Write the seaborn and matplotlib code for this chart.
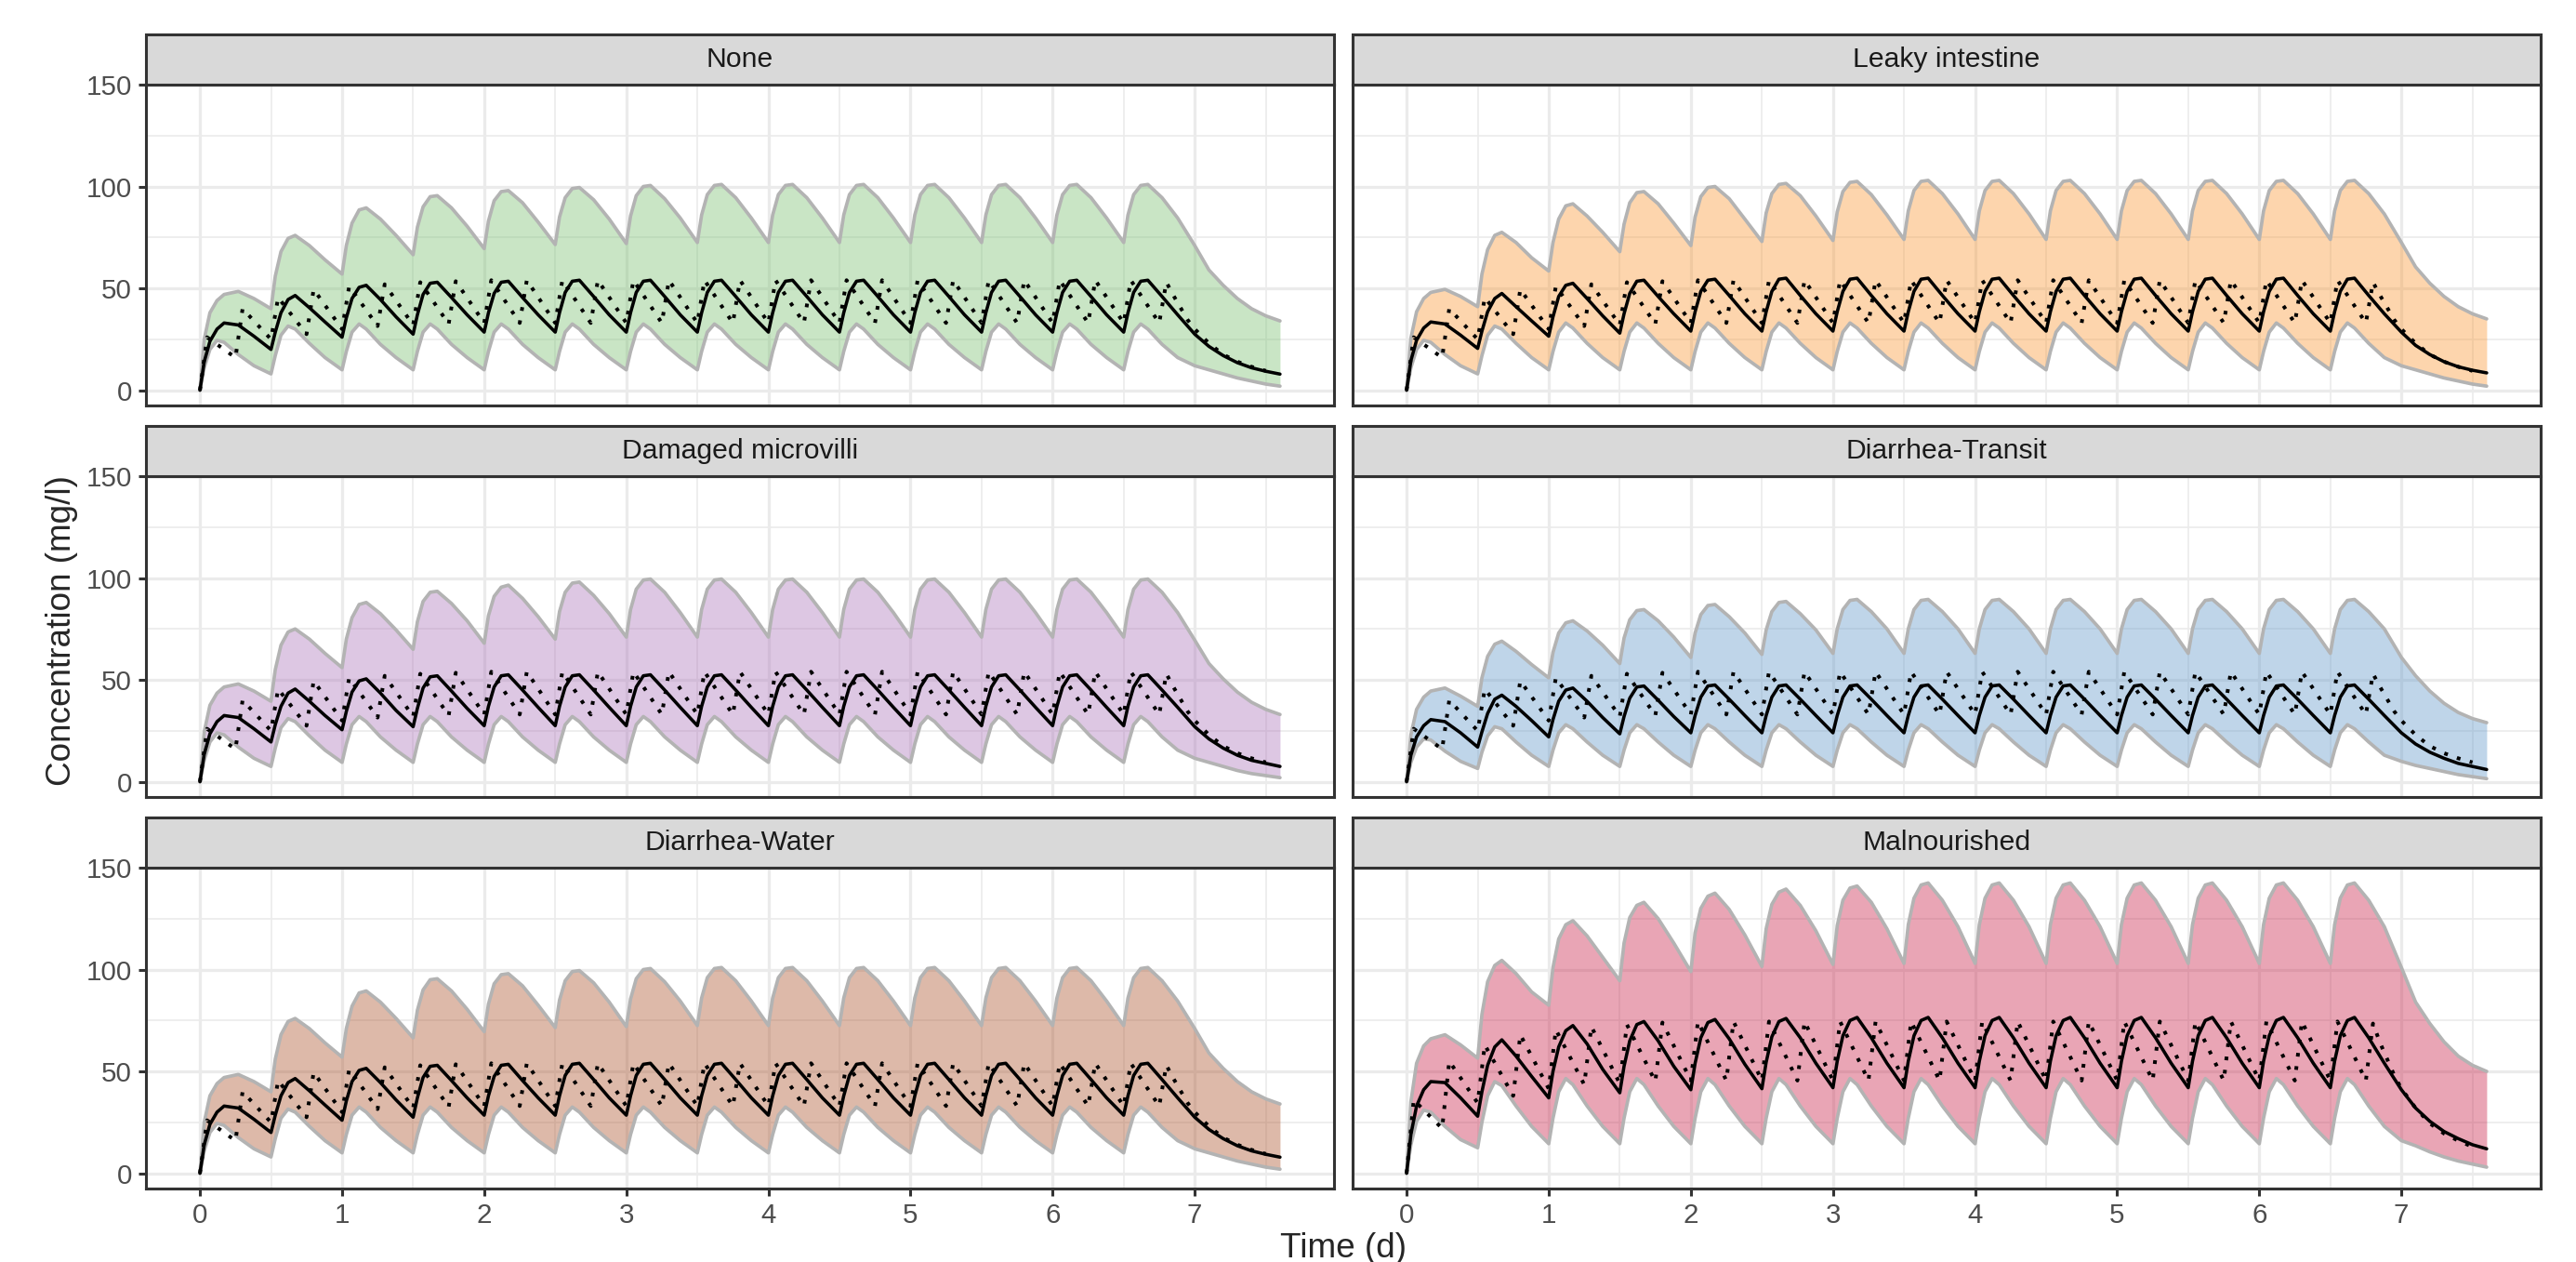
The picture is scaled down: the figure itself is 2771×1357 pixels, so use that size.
import matplotlib
matplotlib.use("Agg")
import matplotlib.pyplot as plt
from matplotlib.patches import Rectangle
from matplotlib.ticker import MultipleLocator
import pandas as pd
import seaborn as sns

# ---- data ---------------------------------------------------------------
scenarios = ["None", "Leaky intestine", "Damaged microvilli",
             "Diarrhea-Transit", "Diarrhea-Water", "Malnourished"]
fill_colors = ["#78C070", "#FA9834", "#AC73B9", "#6198CA", "#AC522A", "#C82048"]

# simulated profiles: one row per dosing interval (sampled at the offsets), last row = washout
dose_times = [0.0, 0.5, 1.0, 1.5, 2.0, 2.5, 3.0, 3.5, 4.0, 4.5, 5.0, 5.5, 6.0, 6.5]
sample_offsets = [0.0, 0.03, 0.07, 0.12, 0.17, 0.27, 0.38]
tail_times = [7.0, 7.1, 7.2, 7.3, 7.4, 7.5, 7.6]

none_median = [
    [0, 14, 24, 30, 33, 32, 26.5],
    [20, 28.5, 38, 44.5, 46.5, 40.5, 33.5],
    [26, 35.5, 45, 50.5, 51.5, 44.5, 36],
    [27.5, 37, 47, 52.5, 53, 45.5, 37],
    [28.5, 38, 47.5, 53, 53.5, 45.5, 37],
    [28.5, 38, 48, 53.5, 54, 46, 37],
    [28.5, 38, 48, 53.5, 54, 46, 37],
    [28.5, 38, 48, 53.5, 54, 46, 37],
    [28.5, 38, 48, 53.5, 54, 46, 37],
    [28.5, 38, 48, 53.5, 54, 46, 37],
    [28.5, 38, 48, 53.5, 54, 46, 37],
    [28.5, 38, 48, 53.5, 54, 46, 37],
    [28.5, 38, 48, 53.5, 54, 46, 37],
    [28.5, 38, 48, 53.5, 54, 46, 37],
    [27.5, 21.5, 17, 13.5, 11, 9.3, 7.9],
]
none_upper = [
    [0, 25, 38, 44, 47, 48.5, 45],
    [40, 56, 68, 74.5, 76, 71, 64],
    [57, 71, 82, 88.5, 89.5, 84, 76],
    [66.5, 80, 90, 95, 95.5, 89.5, 80.5],
    [69.5, 83, 93, 97.5, 98, 92, 82.5],
    [71.5, 85, 94.5, 99, 99.5, 93.5, 84],
    [72, 85.5, 95.5, 100, 100.5, 94, 84.5],
    [72.5, 86, 96, 100.5, 101, 94.5, 84.5],
    [72.5, 86, 96, 100.5, 101, 94.5, 84.5],
    [72.5, 86, 96, 100.5, 101, 94.5, 84.5],
    [72.5, 86, 96, 100.5, 101, 94.5, 84.5],
    [72.5, 86, 96, 100.5, 101, 94.5, 84.5],
    [72.5, 86, 96, 100.5, 101, 94.5, 84.5],
    [72.5, 86, 96, 100.5, 101, 94.5, 84.5],
    [71, 59, 51.5, 45, 40, 36.5, 34],
]
none_lower = [
    [0, 11, 20, 24.5, 23.5, 17.5, 12],
    [8, 17, 27, 31.5, 30, 23, 16],
    [10, 19, 28.5, 32.5, 30, 22.5, 16],
    [10, 19, 28.5, 32.5, 30, 22.5, 16],
    [10, 19, 28.5, 32.5, 30, 22.5, 16],
    [10, 19, 28.5, 32.5, 30, 22.5, 16],
    [10, 19, 28.5, 32.5, 30, 22.5, 16],
    [10, 19, 28.5, 32.5, 30, 22.5, 16],
    [10, 19, 28.5, 32.5, 30, 22.5, 16],
    [10, 19, 28.5, 32.5, 30, 22.5, 16],
    [10, 19, 28.5, 32.5, 30, 22.5, 16],
    [10, 19, 28.5, 32.5, 30, 22.5, 16],
    [10, 19, 28.5, 32.5, 30, 22.5, 16],
    [10, 19, 28.5, 32.5, 30, 22.5, 16],
    [12, 10, 8, 6, 4.5, 3, 2],
]

leaky_median = [
    [0, 14.5, 24.5, 30.5, 33.5, 32.5, 27],
    [20.5, 29, 38.5, 45, 47.5, 41, 34],
    [26.5, 36, 46, 51.5, 52.5, 45, 36.5],
    [28, 37.5, 47.5, 53.5, 54, 46, 37.5],
    [29, 38.5, 48.5, 54, 54.5, 46.5, 37.5],
    [29, 38.5, 48.5, 54.5, 55, 46.5, 37.5],
    [29, 38.5, 48.5, 54.5, 55, 46.5, 37.5],
    [29, 38.5, 48.5, 54.5, 55, 46.5, 37.5],
    [29, 38.5, 48.5, 54.5, 55, 46.5, 37.5],
    [29, 38.5, 48.5, 54.5, 55, 46.5, 37.5],
    [29, 38.5, 48.5, 54.5, 55, 46.5, 37.5],
    [29, 38.5, 48.5, 54.5, 55, 46.5, 37.5],
    [29, 38.5, 48.5, 54.5, 55, 46.5, 37.5],
    [29, 38.5, 48.5, 54.5, 55, 46.5, 37.5],
    [28.5, 22, 17.5, 14, 11.5, 9.8, 8.5],
]
leaky_upper = [
    [0, 25.5, 38.5, 45, 48, 49.5, 46],
    [41, 57, 69, 76, 77.5, 72.5, 65],
    [58.5, 72.5, 84, 90.5, 91.5, 85.5, 77.5],
    [68, 81.5, 92, 97, 97.5, 91.5, 82],
    [71, 85, 95, 99.5, 100, 94, 84],
    [73, 87, 96.5, 101, 101.5, 95.5, 85.5],
    [73.5, 87.5, 97.5, 102, 102.5, 96, 86],
    [74, 88, 98, 102.5, 103, 96.5, 86.5],
    [74, 88, 98, 102.5, 103, 96.5, 86.5],
    [74, 88, 98, 102.5, 103, 96.5, 86.5],
    [74, 88, 98, 102.5, 103, 96.5, 86.5],
    [74, 88, 98, 102.5, 103, 96.5, 86.5],
    [74, 88, 98, 102.5, 103, 96.5, 86.5],
    [74, 88, 98, 102.5, 103, 96.5, 86.5],
    [72.5, 60.5, 52.5, 46, 41, 37.5, 35],
]
leaky_lower = [
    [0, 11, 20, 24.5, 23.5, 17.5, 12],
    [8, 17, 27, 31.5, 30, 23, 16],
    [10, 19, 28.5, 33, 30.5, 23, 16],
    [10, 19, 28.5, 33, 30.5, 23, 16],
    [10, 19, 28.5, 33, 30.5, 23, 16],
    [10, 19, 28.5, 33, 30.5, 23, 16],
    [10, 19, 28.5, 33, 30.5, 23, 16],
    [10, 19, 28.5, 33, 30.5, 23, 16],
    [10, 19, 28.5, 33, 30.5, 23, 16],
    [10, 19, 28.5, 33, 30.5, 23, 16],
    [10, 19, 28.5, 33, 30.5, 23, 16],
    [10, 19, 28.5, 33, 30.5, 23, 16],
    [10, 19, 28.5, 33, 30.5, 23, 16],
    [10, 19, 28.5, 33, 30.5, 23, 16],
    [12, 10, 8, 6, 4.5, 3, 2],
]

damaged_median = [
    [0, 13.5, 23.5, 29.5, 32.5, 31.5, 26],
    [19.5, 28, 37, 43.5, 45.5, 39.5, 32.5],
    [25.5, 34.5, 44, 49.5, 50.5, 43.5, 35],
    [27, 36, 46, 51.5, 52, 44.5, 36],
    [27.5, 37, 46.5, 52, 52.5, 45, 36.5],
    [27.5, 37, 46.5, 52, 52.5, 45, 36.5],
    [27.5, 37, 46.5, 52, 52.5, 45, 36.5],
    [27.5, 37, 46.5, 52, 52.5, 45, 36.5],
    [27.5, 37, 46.5, 52, 52.5, 45, 36.5],
    [27.5, 37, 46.5, 52, 52.5, 45, 36.5],
    [27.5, 37, 46.5, 52, 52.5, 45, 36.5],
    [27.5, 37, 46.5, 52, 52.5, 45, 36.5],
    [27.5, 37, 46.5, 52, 52.5, 45, 36.5],
    [27.5, 37, 46.5, 52, 52.5, 45, 36.5],
    [27, 21, 16.5, 13, 10.5, 9, 7.5],
]
damaged_upper = [
    [0, 24.5, 37.5, 43.5, 46.5, 48, 44.5],
    [39.5, 55, 67, 73.5, 75, 70, 63],
    [56, 70, 80.5, 87, 88, 82.5, 74.5],
    [65, 78.5, 88.5, 93, 93.5, 87.5, 79],
    [68, 81.5, 91, 95.5, 96.5, 90, 81],
    [70, 83.5, 93, 97.5, 98, 91.5, 82.5],
    [71, 84.5, 94.5, 99, 99.5, 93, 83],
    [71, 84.5, 94.5, 99, 99.5, 93, 83],
    [71, 84.5, 94.5, 99, 99.5, 93, 83],
    [71, 84.5, 94.5, 99, 99.5, 93, 83],
    [71, 84.5, 94.5, 99, 99.5, 93, 83],
    [71, 84.5, 94.5, 99, 99.5, 93, 83],
    [71, 84.5, 94.5, 99, 99.5, 93, 83],
    [71, 84.5, 94.5, 99, 99.5, 93, 83],
    [69.5, 58, 50.5, 44, 39, 35.5, 33],
]
damaged_lower = [
    [0, 10.5, 19.5, 24, 23, 17, 11.5],
    [7.5, 16.5, 26.5, 31, 29.5, 22.5, 15.5],
    [9.5, 18.5, 28, 32, 29.5, 22, 15.5],
    [9.5, 18.5, 28, 32, 29.5, 22, 15.5],
    [9.5, 18.5, 28, 32, 29.5, 22, 15.5],
    [9.5, 18.5, 28, 32, 29.5, 22, 15.5],
    [9.5, 18.5, 28, 32, 29.5, 22, 15.5],
    [9.5, 18.5, 28, 32, 29.5, 22, 15.5],
    [9.5, 18.5, 28, 32, 29.5, 22, 15.5],
    [9.5, 18.5, 28, 32, 29.5, 22, 15.5],
    [9.5, 18.5, 28, 32, 29.5, 22, 15.5],
    [9.5, 18.5, 28, 32, 29.5, 22, 15.5],
    [9.5, 18.5, 28, 32, 29.5, 22, 15.5],
    [9.5, 18.5, 28, 32, 29.5, 22, 15.5],
    [11.5, 9.5, 7.5, 5.5, 4, 3, 2],
]

transit_median = [
    [0, 13, 22, 27.5, 30.5, 29.5, 24],
    [17, 24.5, 33.5, 40.5, 42.5, 37, 30],
    [22, 30.5, 39.5, 45, 46, 39.5, 31.5],
    [23.5, 32, 41, 46.5, 47, 40, 32],
    [24, 32.5, 41.5, 47, 47.5, 40.5, 32.5],
    [24, 32.5, 41.5, 47, 47.5, 40.5, 32.5],
    [24, 32.5, 41.5, 47, 47.5, 40.5, 32.5],
    [24, 32.5, 41.5, 47, 47.5, 40.5, 32.5],
    [24, 32.5, 41.5, 47, 47.5, 40.5, 32.5],
    [24, 32.5, 41.5, 47, 47.5, 40.5, 32.5],
    [24, 32.5, 41.5, 47, 47.5, 40.5, 32.5],
    [24, 32.5, 41.5, 47, 47.5, 40.5, 32.5],
    [24, 32.5, 41.5, 47, 47.5, 40.5, 32.5],
    [24, 32.5, 41.5, 47, 47.5, 40.5, 32.5],
    [24, 18.5, 14.5, 11.5, 9, 7.5, 6],
]
transit_upper = [
    [0, 23, 35.5, 41.5, 44.5, 46, 42],
    [37, 51, 61.5, 67.5, 69, 64, 57.5],
    [51, 63.5, 73, 78, 79, 74, 67],
    [58, 70.5, 79.5, 84, 84.5, 79, 71],
    [61, 73, 82, 86.5, 87, 81, 73],
    [62.5, 74.5, 83.5, 88, 88.5, 82.5, 74.5],
    [63, 75, 84.5, 89, 89.5, 83.5, 75],
    [63, 75, 84.5, 89, 89.5, 83.5, 75],
    [63, 75, 84.5, 89, 89.5, 83.5, 75],
    [63, 75, 84.5, 89, 89.5, 83.5, 75],
    [63, 75, 84.5, 89, 89.5, 83.5, 75],
    [63, 75, 84.5, 89, 89.5, 83.5, 75],
    [63, 75, 84.5, 89, 89.5, 83.5, 75],
    [63, 75, 84.5, 89, 89.5, 83.5, 75],
    [61, 52, 44.5, 38.5, 34, 31, 29],
]
transit_lower = [
    [0, 9.5, 17, 21, 20.5, 15, 10],
    [6.5, 14.5, 22.5, 27, 26, 19.5, 13],
    [7.5, 15.5, 24, 28, 26, 19.5, 13],
    [7.5, 15.5, 24, 28, 26, 19.5, 13],
    [7.5, 15.5, 24, 28, 26, 19.5, 13],
    [7.5, 15.5, 24, 28, 26, 19.5, 13],
    [7.5, 15.5, 24, 28, 26, 19.5, 13],
    [7.5, 15.5, 24, 28, 26, 19.5, 13],
    [7.5, 15.5, 24, 28, 26, 19.5, 13],
    [7.5, 15.5, 24, 28, 26, 19.5, 13],
    [7.5, 15.5, 24, 28, 26, 19.5, 13],
    [7.5, 15.5, 24, 28, 26, 19.5, 13],
    [7.5, 15.5, 24, 28, 26, 19.5, 13],
    [7.5, 15.5, 24, 28, 26, 19.5, 13],
    [10, 8, 6.5, 5, 3.5, 2.5, 1.5],
]

water_median = [
    [0, 14, 24, 30, 33, 32, 26.5],
    [20, 28.5, 38, 44.5, 46.5, 40.5, 33.5],
    [26, 35.5, 45, 50.5, 51.5, 44.5, 36],
    [27.5, 37, 47, 52.5, 53, 45.5, 37],
    [28.5, 38, 47.5, 53, 53.5, 45.5, 37],
    [28.5, 38, 48, 53.5, 54, 46, 37],
    [28.5, 38, 48, 53.5, 54, 46, 37],
    [28.5, 38, 48, 53.5, 54, 46, 37],
    [28.5, 38, 48, 53.5, 54, 46, 37],
    [28.5, 38, 48, 53.5, 54, 46, 37],
    [28.5, 38, 48, 53.5, 54, 46, 37],
    [28.5, 38, 48, 53.5, 54, 46, 37],
    [28.5, 38, 48, 53.5, 54, 46, 37],
    [28.5, 38, 48, 53.5, 54, 46, 37],
    [27.5, 21.5, 17, 13.5, 11, 9.3, 7.9],
]
water_upper = [
    [0, 25, 38, 44, 47, 48.5, 45],
    [40, 56, 68, 74.5, 76, 71, 64],
    [57, 71, 82, 88.5, 89.5, 84, 76],
    [66.5, 80, 90, 95, 95.5, 89.5, 80.5],
    [69.5, 83, 93, 97.5, 98, 92, 82.5],
    [71.5, 85, 94.5, 99, 99.5, 93.5, 84],
    [72, 85.5, 95.5, 100, 100.5, 94, 84.5],
    [72.5, 86, 96, 100.5, 101, 94.5, 84.5],
    [72.5, 86, 96, 100.5, 101, 94.5, 84.5],
    [72.5, 86, 96, 100.5, 101, 94.5, 84.5],
    [72.5, 86, 96, 100.5, 101, 94.5, 84.5],
    [72.5, 86, 96, 100.5, 101, 94.5, 84.5],
    [72.5, 86, 96, 100.5, 101, 94.5, 84.5],
    [72.5, 86, 96, 100.5, 101, 94.5, 84.5],
    [71, 59, 51.5, 45, 40, 36.5, 34],
]
water_lower = [
    [0, 11, 20, 24.5, 23.5, 17.5, 12],
    [8, 17, 27, 31.5, 30, 23, 16],
    [10, 19, 28.5, 32.5, 30, 22.5, 16],
    [10, 19, 28.5, 32.5, 30, 22.5, 16],
    [10, 19, 28.5, 32.5, 30, 22.5, 16],
    [10, 19, 28.5, 32.5, 30, 22.5, 16],
    [10, 19, 28.5, 32.5, 30, 22.5, 16],
    [10, 19, 28.5, 32.5, 30, 22.5, 16],
    [10, 19, 28.5, 32.5, 30, 22.5, 16],
    [10, 19, 28.5, 32.5, 30, 22.5, 16],
    [10, 19, 28.5, 32.5, 30, 22.5, 16],
    [10, 19, 28.5, 32.5, 30, 22.5, 16],
    [10, 19, 28.5, 32.5, 30, 22.5, 16],
    [10, 19, 28.5, 32.5, 30, 22.5, 16],
    [12, 10, 8, 6, 4.5, 3, 2],
]

mal_median = [
    [0, 19, 33, 41, 45, 44.5, 37],
    [28, 40, 53, 62, 65.5, 57.5, 47.5],
    [37, 50, 62, 70, 72.5, 63.5, 51],
    [39.5, 52.5, 65, 73, 74.5, 65, 52.5],
    [41, 54, 66.5, 74, 75.5, 66, 53.5],
    [41.5, 54.5, 67, 74.5, 76, 66.5, 54],
    [42, 55, 67.5, 75, 76.5, 66.5, 54],
    [42, 55, 67.5, 75, 76.5, 66.5, 54],
    [42, 55, 67.5, 75, 76.5, 66.5, 54],
    [42, 55, 67.5, 75, 76.5, 66.5, 54],
    [42, 55, 67.5, 75, 76.5, 66.5, 54],
    [42, 55, 67.5, 75, 76.5, 66.5, 54],
    [42, 55, 67.5, 75, 76.5, 66.5, 54],
    [42, 55, 67.5, 75, 76.5, 66.5, 54],
    [41, 32, 25.5, 20.5, 17, 14, 12],
]
mal_upper = [
    [0, 35, 54, 62.5, 66, 68, 63],
    [56.5, 78, 94, 102, 104.5, 98, 89],
    [82.5, 101, 115, 122, 124, 116.5, 106],
    [94.5, 113, 125.5, 131.5, 133, 125, 113],
    [99, 118, 130, 136, 137.5, 129.5, 117],
    [101.5, 120, 132, 138, 139.5, 131.5, 119],
    [102.5, 121.5, 134, 140, 141, 133, 120],
    [103, 122, 135, 141.5, 142.5, 134, 121],
    [103, 122, 135, 141.5, 142.5, 134, 121],
    [103, 122, 135, 141.5, 142.5, 134, 121],
    [103, 122, 135, 141.5, 142.5, 134, 121],
    [103, 122, 135, 141.5, 142.5, 134, 121],
    [103, 122, 135, 141.5, 142.5, 134, 121],
    [103, 122, 135, 141.5, 142.5, 134, 121],
    [101, 84, 73.5, 64.5, 57.5, 53, 50],
]
mal_lower = [
    [0, 14, 25.5, 31, 30, 23, 16.5],
    [12.5, 25, 38, 45, 43, 33, 23],
    [14.5, 27, 40, 46.5, 43.5, 33, 23],
    [14.5, 27, 40, 46.5, 43.5, 33, 23],
    [14.5, 27, 40, 46.5, 43.5, 33, 23],
    [14.5, 27, 40, 46.5, 43.5, 33, 23],
    [14.5, 27, 40, 46.5, 43.5, 33, 23],
    [14.5, 27, 40, 46.5, 43.5, 33, 23],
    [14.5, 27, 40, 46.5, 43.5, 33, 23],
    [14.5, 27, 40, 46.5, 43.5, 33, 23],
    [14.5, 27, 40, 46.5, 43.5, 33, 23],
    [14.5, 27, 40, 46.5, 43.5, 33, 23],
    [14.5, 27, 40, 46.5, 43.5, 33, 23],
    [14.5, 27, 40, 46.5, 43.5, 33, 23],
    [16, 13.5, 10.5, 8, 6, 4.5, 3],
]

# dotted reference profile (6-hourly): trough at each quarter day, peak shortly after
ref_quarters = [0.0, 0.25, 0.5, 0.75, 1.0, 1.25, 1.5, 1.75, 2.0, 2.25, 2.5, 2.75, 3.0, 3.25,
                3.5, 3.75, 4.0, 4.25, 4.5, 4.75, 5.0, 5.25, 5.5, 5.75, 6.0, 6.25, 6.5, 6.75]
ref_peak_lag = 0.05
ref_tail_times = [6.85, 6.9, 6.95, 7.0, 7.1, 7.2, 7.3, 7.4, 7.5]

ref_trough_std = [0, 16, 25, 27.5, 30, 31.5, 32, 32.5, 33, 33, 33, 33, 33, 33,
                  33, 33, 33, 33, 33, 33, 33, 33, 33, 33, 33, 33, 33, 33]
ref_peak_std = [26, 40, 45.5, 49.5, 51, 52, 53, 53.5, 54, 54, 54, 54, 54, 54,
                54, 54, 54, 54, 54, 54, 54, 54, 54, 54, 54, 54, 54, 53]
ref_tail_std = [46.5, 40.5, 34.5, 30, 23, 17.5, 14, 11.5, 9.5]

ref_trough_mal = [0, 22, 34.5, 38, 41.5, 43.5, 44, 45, 45.5, 45.5, 45.5, 45.5, 45.5, 45.5,
                  45.5, 45.5, 45.5, 45.5, 45.5, 45.5, 45.5, 45.5, 45.5, 45.5, 45.5, 45.5, 45.5, 45.5]
ref_peak_mal = [36, 55, 63, 68, 70.5, 72, 73, 74, 74.5, 74.5, 74.5, 74.5, 74.5, 74.5,
                74.5, 74.5, 74.5, 74.5, 74.5, 74.5, 74.5, 74.5, 74.5, 74.5, 74.5, 74.5, 74.5, 73.5]
ref_tail_mal = [64, 56, 48, 41.5, 32, 24.5, 19.5, 16, 13]


def flat(rows):
    return [v for row in rows for v in row]


sim_time = [round(d + o, 3) for d in dose_times for o in sample_offsets] + tail_times
sim_series = {
    "None": (none_lower, none_median, none_upper),
    "Leaky intestine": (leaky_lower, leaky_median, leaky_upper),
    "Damaged microvilli": (damaged_lower, damaged_median, damaged_upper),
    "Diarrhea-Transit": (transit_lower, transit_median, transit_upper),
    "Diarrhea-Water": (water_lower, water_median, water_upper),
    "Malnourished": (mal_lower, mal_median, mal_upper),
}
ref_sets = {
    "std": (ref_trough_std, ref_peak_std, ref_tail_std),
    "mal": (ref_trough_mal, ref_peak_mal, ref_tail_mal),
}
ref_for = {s: "std" for s in scenarios}
ref_for["Malnourished"] = "mal"

frames = []
for name in scenarios:
    lo, med, hi = sim_series[name]
    frames.append(pd.DataFrame({"scenario": name, "time": sim_time, "lower": flat(lo),
                                "median": flat(med), "upper": flat(hi)}))
sim = pd.concat(frames, ignore_index=True)

ref_time = [round(q + p, 3) for q in ref_quarters for p in (0.0, ref_peak_lag)] + ref_tail_times
ref_frames = []
for name in scenarios:
    tr, pk, tl = ref_sets[ref_for[name]]
    conc = [v for pair in zip(tr, pk) for v in pair] + tl
    ref_frames.append(pd.DataFrame({"scenario": name, "time": ref_time, "conc": conc}))
ref = pd.concat(ref_frames, ignore_index=True)

# ---- plot -----------------------------------------------------------------
DPI = 221
sns.set_theme(style="white")
plt.rcParams["font.family"] = ["Liberation Sans", "DejaVu Sans"]

g = sns.FacetGrid(sim, col="scenario", col_wrap=2, col_order=scenarios,
                  sharex=True, sharey=True, despine=False, height=2, aspect=2)
fig = g.figure
fig.set_size_inches(2771 / DPI, 1357 / DPI)

for i, (name, ax) in enumerate(g.axes_dict.items()):
    d = sim[sim.scenario == name]
    ax.fill_between(d["time"], d["lower"], d["upper"], color=fill_colors[i],
                    alpha=0.4, lw=0, zorder=1)
    sns.lineplot(data=d, x="time", y="lower", ax=ax, color="#B3B3B3", lw=1.2,
                 errorbar=None, zorder=2)
    sns.lineplot(data=d, x="time", y="upper", ax=ax, color="#B3B3B3", lw=1.2,
                 errorbar=None, zorder=2)
    sns.lineplot(data=d, x="time", y="median", ax=ax, color="black", lw=1.15,
                 errorbar=None, zorder=3)
    r = ref[ref.scenario == name]
    sns.lineplot(data=r, x="time", y="conc", ax=ax, color="black", lw=1.3,
                 linestyle=(0, (1, 2.6)), errorbar=None, zorder=4)

    ax.set_xlim(-0.38, 7.98)
    ax.set_ylim(-7.5, 150)
    ax.xaxis.set_major_locator(MultipleLocator(1))
    ax.xaxis.set_minor_locator(MultipleLocator(0.5))
    ax.yaxis.set_major_locator(MultipleLocator(50))
    ax.yaxis.set_minor_locator(MultipleLocator(25))
    ax.set_axisbelow(True)
    ax.grid(which="major", color="#EBEBEB", lw=1.07)
    ax.grid(which="minor", color="#EBEBEB", lw=0.55)
    for sp in ax.spines.values():
        sp.set_color("#333333")
        sp.set_linewidth(1.0)
    ax.set_xlabel("")
    ax.set_ylabel("")
    ax.set_title("")

    row, col = divmod(i, 2)
    ax.tick_params(which="major", length=2.75, width=1.0, color="#333333",
                   labelcolor="#4D4D4D", labelsize=9.6, pad=2.2)
    ax.tick_params(which="minor", length=0)
    ax.tick_params(axis="x", bottom=(row == 2), labelbottom=(row == 2))
    ax.tick_params(axis="y", left=(col == 0), labelleft=(col == 0))

    # panel position (pixels measured on the reference)
    x0 = 157 if col == 0 else 1455
    top = [91, 512, 933][row]
    ax.set_position([x0 / 2771, (1357 - top - 345) / 1357, 1278 / 2771, 345 / 1357])

    strip_h = 54 / 345
    ax.add_patch(Rectangle((0, 1), 1, strip_h, transform=ax.transAxes, facecolor="#D9D9D9",
                           edgecolor="#333333", lw=1.0, clip_on=False, zorder=5))
    ax.text(0.5, 1 + strip_h / 2, name, transform=ax.transAxes, ha="center", va="center",
            fontsize=9.8, color="#1A1A1A", zorder=6)

fig.text((157 + 2733) / 2 / 2771, 14 / 1357, "Time (d)", ha="center", va="center",
         fontsize=12)
fig.text(67 / 2771, 0.5, "Concentration (mg/l)", ha="center", va="center",
         rotation=90, fontsize=12)

fig.savefig("out.png", dpi=DPI)
